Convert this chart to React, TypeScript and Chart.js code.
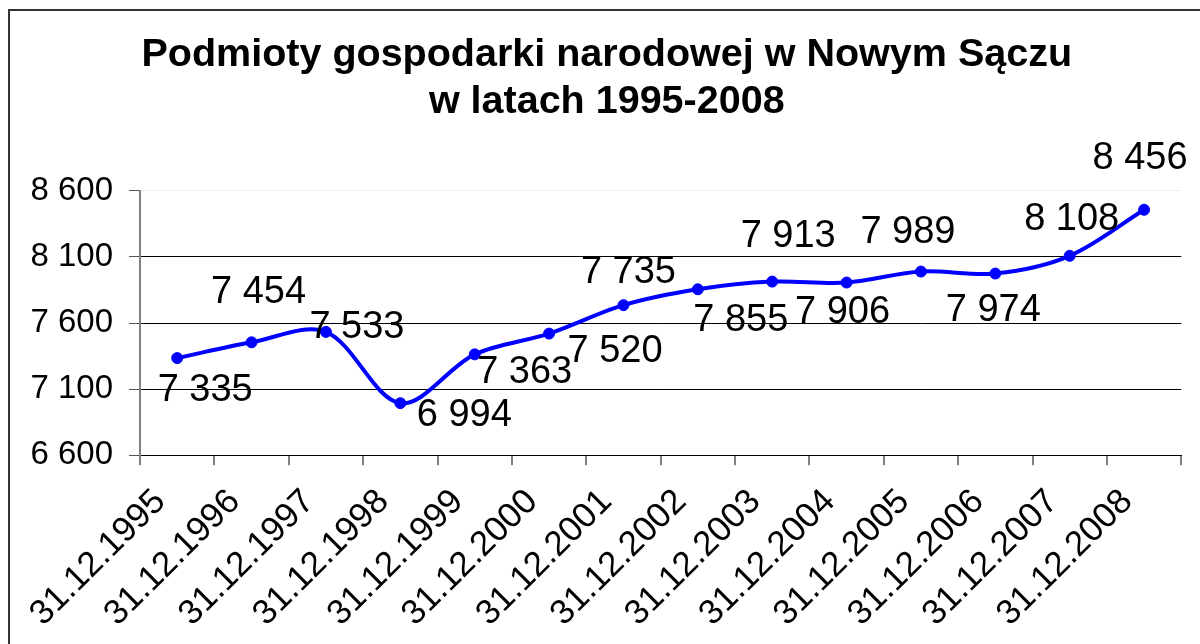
import React, { useEffect, useRef } from "react";
import { Chart, registerables } from "chart.js";

Chart.register(...registerables);

const categories = [
  "31.12.1995", "31.12.1996", "31.12.1997", "31.12.1998", "31.12.1999",
  "31.12.2000", "31.12.2001", "31.12.2002", "31.12.2003", "31.12.2004",
  "31.12.2005", "31.12.2006", "31.12.2007", "31.12.2008",
];
const values = [7335, 7454, 7533, 6994, 7363, 7520, 7735, 7855, 7913, 7906, 7989, 7974, 8108, 8456];
const yTicks = [6600, 7100, 7600, 8100, 8600];
const titleLines = ["Podmioty gospodarki narodowej w Nowym Sączu", "w latach 1995-2008"];

// data label placement relative to each point (px)
const labelDx = [28, 7, 31, 64, 50, 66, 5, 43, 16, -4, -13, -2, 2, -4];
const labelDy = [32, -50, -4, 12, 18, 18, -33, 31, -45, 30, -39, 37, -36, -51];

const FONT = "'Liberation Sans', Arial, sans-serif";
const fmt = (v: number) => String(v).replace(/\B(?=(\d{3})+(?!\d))/g, " ");

const dataLabels = {
  id: "dataLabels",
  afterDatasetsDraw(chart: any) {
    const ctx = chart.ctx;
    const meta = chart.getDatasetMeta(0);
    ctx.save();
    ctx.font = `38px ${FONT}`;
    ctx.fillStyle = "#000";
    ctx.textAlign = "center";
    ctx.textBaseline = "middle";
    meta.data.forEach((pt: any, i: number) => {
      ctx.fillText(fmt(values[i]), pt.x + labelDx[i], pt.y + labelDy[i]);
    });
    ctx.restore();
  },
};

export default function App() {
  const ref = useRef<HTMLCanvasElement | null>(null);
  useEffect(() => {
    if (!ref.current) return;
    const chart = new Chart(ref.current, {
      type: "line",
      data: {
        labels: categories,
        datasets: [
          {
            data: values,
            borderColor: "#0000FF",
            backgroundColor: "#0000FF",
            borderWidth: 4,
            pointRadius: 5.5,
            pointBackgroundColor: "#0000FF",
            pointBorderColor: "#0000FF",
            pointBorderWidth: 1,
            tension: 0.33,
            clip: false as any,
          },
        ],
      },
      options: {
        responsive: false,
        animation: false,
        devicePixelRatio: 1,
        layout: { padding: { left: 13.5, right: 0, top: 0, bottom: 0 } },
        plugins: {
          legend: { display: false },
          tooltip: { enabled: false },
          title: {
            display: true,
            text: titleLines,
            color: "#000",
            font: { family: FONT, size: 39.5, weight: "bold", lineHeight: 1.17 },
            padding: { top: 21.5, bottom: 65.8 },
          },
        },
        scales: {
          x: {
            offset: true,
            grid: {
              offset: true,
              drawOnChartArea: false,
              drawTicks: true,
              tickLength: 10,
              color: "#808080",
              lineWidth: 2,
            },
            border: { display: true, color: "#000", width: 1 },
            ticks: {
              autoSkip: false,
              maxRotation: 45,
              minRotation: 45,
              padding: 16,
              labelOffset: -17,
              color: "#000",
              font: { family: FONT, size: 35 },
            },
            afterFit: (scale: any) => {
              scale.height = 215.7;
            },
          },
          y: {
            min: 6600,
            max: 8600,
            afterBuildTicks: (scale: any) => {
              scale.ticks = yTicks.map((v) => ({ value: v }));
            },
            grid: {
              color: (c: any) => (c.tick && c.tick.value === 8600 ? "rgba(0,0,0,0.06)" : "#000"),
              tickColor: "#555",
              tickLength: 11,
              lineWidth: 1,
            },
            border: { display: true, color: "#808080", width: 2 },
            ticks: {
              padding: 16,
              color: "#000",
              font: { family: FONT, size: 33 },
              callback: (v: any) => fmt(Number(v)),
            },
            afterFit: (scale: any) => {
              scale.width = 116.5;
            },
          },
        },
      },
      plugins: [dataLabels],
    });
    return () => chart.destroy();
  }, []);

  return (
    <div
      style={{
        position: "fixed",
        left: 8,
        top: 9,
        width: 1192,
        height: 660,
        border: "2px solid #333",
        background: "#fff",
      }}
    >
      <canvas ref={ref} width={1180} height={660} style={{ display: "block" }} />
    </div>
  );
}
